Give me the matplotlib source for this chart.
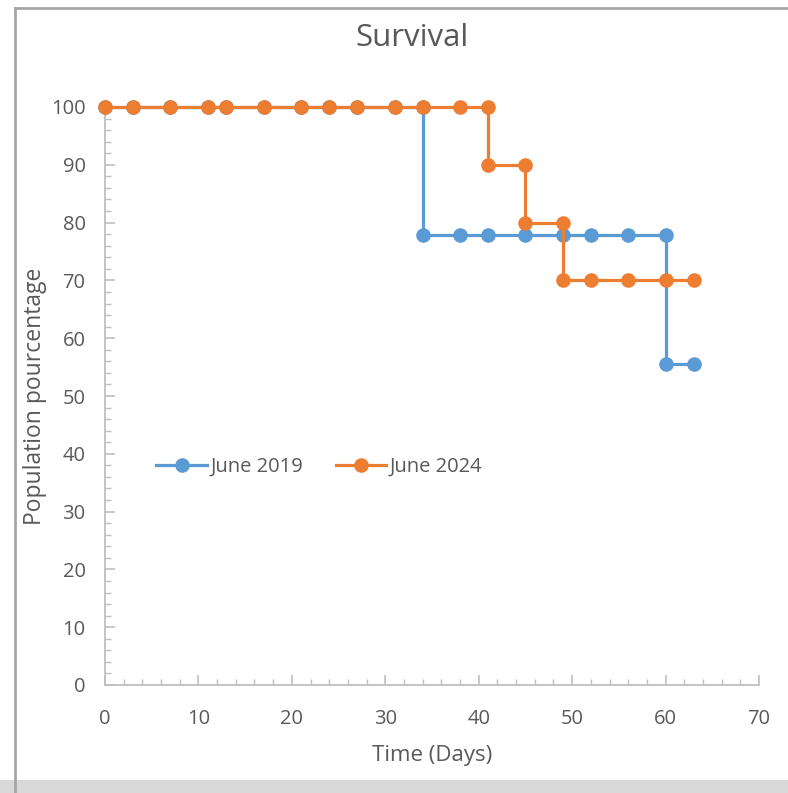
import matplotlib
matplotlib.use("Agg")
import matplotlib.pyplot as plt
from matplotlib.ticker import MultipleLocator
from matplotlib.lines import Line2D
from matplotlib.patches import Rectangle

plt.rcParams['font.family'] = ['Open Sans', 'DejaVu Sans']

# Data (step survival curves; duplicate days form the vertical drops)
days_2019 = [0, 3, 7, 11, 13, 17, 21, 24, 27, 31, 34, 34, 38, 41, 45, 49, 52, 56, 60, 60, 63]
surv_2019 = [100, 100, 100, 100, 100, 100, 100, 100, 100, 100, 100,
             77.78, 77.78, 77.78, 77.78, 77.78, 77.78, 77.78, 77.78, 55.56, 55.56]
days_2024 = [0, 3, 7, 11, 13, 17, 21, 24, 27, 31, 34, 38, 41, 41, 45, 45, 49, 49, 52, 56, 60, 63]
surv_2024 = [100, 100, 100, 100, 100, 100, 100, 100, 100, 100, 100, 100, 100,
             90, 90, 80, 80, 70, 70, 70, 70, 70]
labels = ["June 2019", "June 2024"]
title = "Survival"
xlabel = "Time (Days)"
ylabel = "Population pourcentage"

blue = "#5B9BD5"
orange = "#ED7D31"
txt = "#595959"
axc = "#BFBFBF"

fig = plt.figure(figsize=(7.88, 7.93), dpi=100)
W, H = 788, 793

# outer chart frame and bottom gray band
fig.patches.append(Rectangle((0, 0), 1, 13 / H, transform=fig.transFigure,
                             facecolor="#D9D9D9", edgecolor="none", zorder=0))
fig.add_artist(Line2D([15 / W, 15 / W], [0, 1 - 8 / H], transform=fig.transFigure,
                      color="#A6A6A6", lw=2))
fig.add_artist(Line2D([15 / W, 1], [1 - 8 / H, 1 - 8 / H], transform=fig.transFigure,
                      color="#A6A6A6", lw=2))

ax = fig.add_axes([105 / W, (H - 685) / H, (759 - 105) / W, (685 - 107) / H])
ax.patch.set_alpha(0)

ax.plot(days_2019, surv_2019, color=blue, lw=2.3, marker='o', markersize=10.5,
        markeredgewidth=0, label=labels[0], zorder=3, clip_on=False)
ax.plot(days_2024, surv_2024, color=orange, lw=2.3, marker='o', markersize=10.5,
        markeredgewidth=0, label=labels[1], zorder=4, clip_on=False)

ax.set_xlim(0, 70)
ax.set_ylim(0, 100)
ax.xaxis.set_major_locator(MultipleLocator(10))
ax.xaxis.set_minor_locator(MultipleLocator(2))
ax.yaxis.set_major_locator(MultipleLocator(10))
ax.yaxis.set_minor_locator(MultipleLocator(2))

for s in ["top", "right"]:
    ax.spines[s].set_visible(False)
for s in ["left", "bottom"]:
    ax.spines[s].set_color(axc)
    ax.spines[s].set_linewidth(1.3)

ax.tick_params(which='major', direction='in', length=7, width=1.2, color=axc,
               labelsize=14.5, labelcolor=txt)
ax.tick_params(which='minor', direction='in', length=4, width=1.0, color=axc)
ax.tick_params(axis='x', which='major', pad=17)
ax.tick_params(axis='y', which='major', pad=14)

fig.text(412.5 / W, 1 - 46 / H, title, fontsize=22.5, color=txt,
         ha='center', va='baseline')
ax.set_xlabel(xlabel, fontsize=16, color=txt, labelpad=12)
ax.set_ylabel(ylabel, fontsize=16.5, color=txt, labelpad=3)

leg = ax.legend(loc='center', bbox_to_anchor=(0.328, 0.377), ncol=2, frameon=False,
                fontsize=14.5, labelcolor=txt, handlelength=2.5, handletextpad=0.2,
                columnspacing=1.6)

fig.savefig("out.png", dpi=100, facecolor="white")
